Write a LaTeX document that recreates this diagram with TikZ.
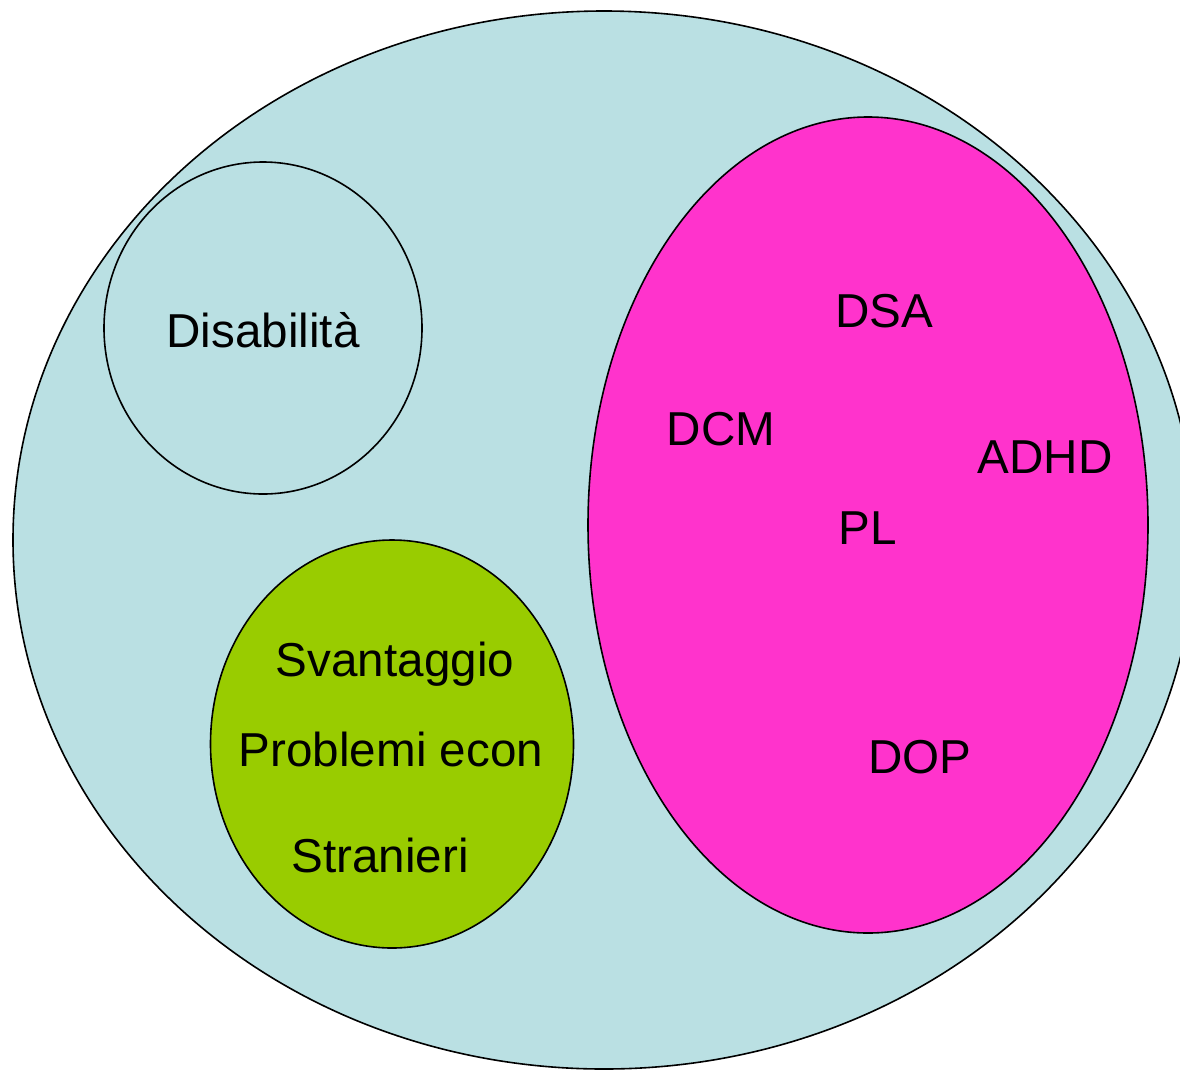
\documentclass[tikz,border=0pt]{standalone}
\usepackage{fontspec}
\setmainfont{Liberation Sans}
\definecolor{outerblue}{HTML}{BAE0E3}
\definecolor{pinkfill}{HTML}{FF33CC}
\definecolor{greenfill}{HTML}{99CC00}
\begin{document}
\begin{tikzpicture}[x=1pt,y=-1pt,
  blob/.style={draw=black,line width=1.6pt},
  lbl/.style={font=\fontsize{47.6}{52}\selectfont,anchor=base,inner sep=0pt}]
\useasboundingbox (0,0) rectangle (1180,1069);
\clip (0,0) rectangle (1180,1069);
\fill[white] (0,0) rectangle (1180,1069);
\draw[blob,fill=outerblue] (604,540) ellipse [x radius=591,y radius=529];
\draw[blob,fill=outerblue] (263,328) ellipse [x radius=159,y radius=166];
\draw[blob,fill=pinkfill] (868,525) ellipse [x radius=280,y radius=408];
\draw[blob,fill=greenfill] (392,744) ellipse [x radius=181.5,y radius=204];
\node[lbl] (dis) at (263,347) {Disabilità};
\node[lbl] (dsa) at (884,327) {DSA};
\node[lbl] (dcm) at (721,445) {DCM};
\node[lbl] (adhd) at (1045,473) {ADHD};
\node[lbl] (pl) at (868,544) {PL};
\node[lbl] (dop) at (920,773) {DOP};
\node[lbl] (sv) at (395,676) {Svantaggio};
\node[lbl] (pe) at (391,766) {Problemi econ};
\node[lbl] (st) at (380,872) {Stranieri};
\end{tikzpicture}
\end{document}
